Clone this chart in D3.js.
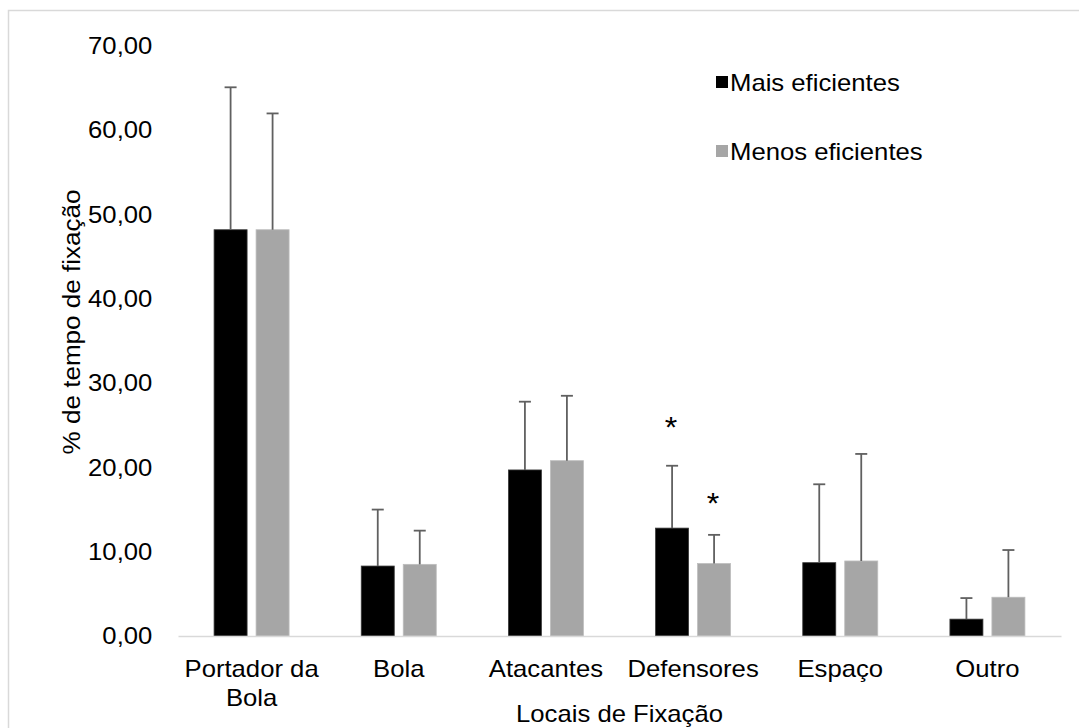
<!DOCTYPE html>
<html>
<head>
<meta charset="utf-8">
<script src="https://cdn.jsdelivr.net/npm/d3@7"></script>
<style>
  body { margin: 0; background: #fff; }
  text { font-family: "Liberation Sans", Arial, sans-serif; fill: #000; }
</style>
</head>
<body>
<svg width="1079" height="728"></svg>
<script>
// data
const categorias = [["Portador da", "Bola"], ["Bola"], ["Atacantes"], ["Defensores"], ["Espaço"], ["Outro"]];
const series     = ["Mais eficientes", "Menos eficientes"];
const mais       = [48.2, 8.3, 19.7, 12.8, 8.7, 2.0];
const maisDP     = [16.9, 6.7, 8.1, 7.4, 9.3, 2.5];
const menos      = [48.2, 8.5, 20.8, 8.6, 8.9, 4.6];
const menosDP    = [13.8, 4.0, 7.7, 3.4, 12.7, 5.6];
const asterisco  = [[false, false], [false, false], [false, false], [true, true], [false, false], [false, false]];
const yTicks     = [0, 10, 20, 30, 40, 50, 60, 70];

const cores = ["#000000", "#a6a6a6"];
const bordas = ["#3a3a3a", "#bdbdbd"];
const sx = 1.07;           // text in the picture is a bit stretched sideways
const fs = 24;

const svg    = d3.select("svg"),
      margin = {top: 46, right: 18, bottom: 92, left: 178},
      width  = +svg.attr("width")  - margin.left - margin.right,
      height = +svg.attr("height") - margin.top  - margin.bottom;

// chart border
svg.append("rect")
    .attr("x", 8.5).attr("y", 10.5)
    .attr("width", 1100).attr("height", 800)
    .attr("fill", "none").attr("stroke", "#d9d9d9").attr("stroke-width", 1.5);

const g = svg.append("g").attr("transform", `translate(${margin.left},${margin.top})`);

const keys = categorias.map((c, i) => "c" + i);
const x0 = d3.scaleBand().domain(keys).range([0, width]);
const x1 = d3.scaleBand().domain(series).range([0, 75]).paddingInner(0.214);
const y  = d3.scaleLinear().domain([0, 70]).range([height, 0]);

const rows = keys.map((k, i) => ({
  k, i,
  vals: [
    {s: series[0], v: mais[i],  dp: maisDP[i],  star: asterisco[i][0], j: 0},
    {s: series[1], v: menos[i], dp: menosDP[i], star: asterisco[i][1], j: 1}
  ]
}));

const grp = g.selectAll(".grp").data(rows).enter().append("g")
    .attr("class", "grp")
    .attr("transform", d => `translate(${x0(d.k) + x0.bandwidth() / 2 - 37.5},0)`);

grp.selectAll("rect").data(d => d.vals).enter().append("rect")
    .attr("x", d => x1(d.s))
    .attr("y", d => y(d.v))
    .attr("width", x1.bandwidth())
    .attr("height", d => height - y(d.v))
    .attr("fill", d => cores[d.j])
    .attr("stroke", d => bordas[d.j])
    .attr("stroke-width", 0.8);

// error bars (upper only)
const eb = grp.selectAll(".eb").data(d => d.vals).enter().append("g").attr("class", "eb")
    .attr("stroke", "#606060").attr("stroke-width", 1.8);
eb.append("line")
    .attr("x1", d => x1(d.s) + x1.bandwidth() / 2)
    .attr("x2", d => x1(d.s) + x1.bandwidth() / 2)
    .attr("y1", d => y(d.v))
    .attr("y2", d => y(d.v + d.dp));
eb.append("line")
    .attr("x1", d => x1(d.s) + x1.bandwidth() / 2 - 6)
    .attr("x2", d => x1(d.s) + x1.bandwidth() / 2 + 6)
    .attr("y1", d => y(d.v + d.dp))
    .attr("y2", d => y(d.v + d.dp));

grp.selectAll(".star").data(d => d.vals.filter(v => v.star)).enter().append("text")
    .attr("class", "star")
    .attr("text-anchor", "middle")
    .attr("transform", d => `translate(${x1(d.s) + x1.bandwidth() / 2 - 1},${y(d.v + d.dp) - (d.j === 0 ? 29 : 22)}) scale(${sx},1)`)
    .style("font-size", "30px")
    .text("*");

// y axis: labels only
const yAxis = g.append("g")
    .call(d3.axisLeft(y).tickValues(yTicks).tickSize(0).tickPadding(24)
      .tickFormat(d => d.toFixed(2).replace(".", ",")));
yAxis.select(".domain").remove();
yAxis.selectAll("text")
    .attr("fill", "#000")
    .style("font-size", fs + "px")
    .style("font-family", '"Liberation Sans", Arial, sans-serif')
    .attr("transform", `scale(${sx},1)`);

// x axis
const xAxis = g.append("g")
    .attr("transform", `translate(0,${height})`)
    .call(d3.axisBottom(x0).tickSize(0).tickFormat(""));
xAxis.select(".domain").attr("stroke", "#d9d9d9").attr("stroke-width", 1.5);
xAxis.selectAll(".tick").each(function(k, i) {
  const t = d3.select(this).append("text")
      .attr("text-anchor", "middle")
      .attr("fill", "#000")
      .attr("transform", `scale(${sx},1)`)
      .style("font-size", fs + "px")
      .style("font-family", '"Liberation Sans", Arial, sans-serif');
  categorias[i].forEach((line, n) => {
    t.append("tspan").attr("x", 0).attr("y", 41 + n * 29).text(line);
  });
});

// axis titles
svg.append("text")
    .attr("text-anchor", "middle")
    .attr("transform", `translate(${margin.left + width / 2},722) scale(${sx},1)`)
    .style("font-size", fs + "px")
    .text("Locais de Fixação");

svg.append("text")
    .attr("text-anchor", "middle")
    .attr("transform", `translate(80,322) rotate(-90) scale(1.085,1)`)
    .style("font-size", fs + "px")
    .text("% de tempo de fixação");

// legend
const leg = svg.append("g").selectAll("g").data(series).enter().append("g")
    .attr("transform", (d, i) => `translate(716,${82 + i * 69})`);
leg.append("rect")
    .attr("x", 0).attr("y", -6).attr("width", 12).attr("height", 12)
    .attr("fill", (d, i) => cores[i]);
leg.append("text")
    .attr("transform", `translate(14,8.5) scale(${sx},1)`)
    .style("font-size", fs + "px")
    .text(d => d);
</script>
</body>
</html>
